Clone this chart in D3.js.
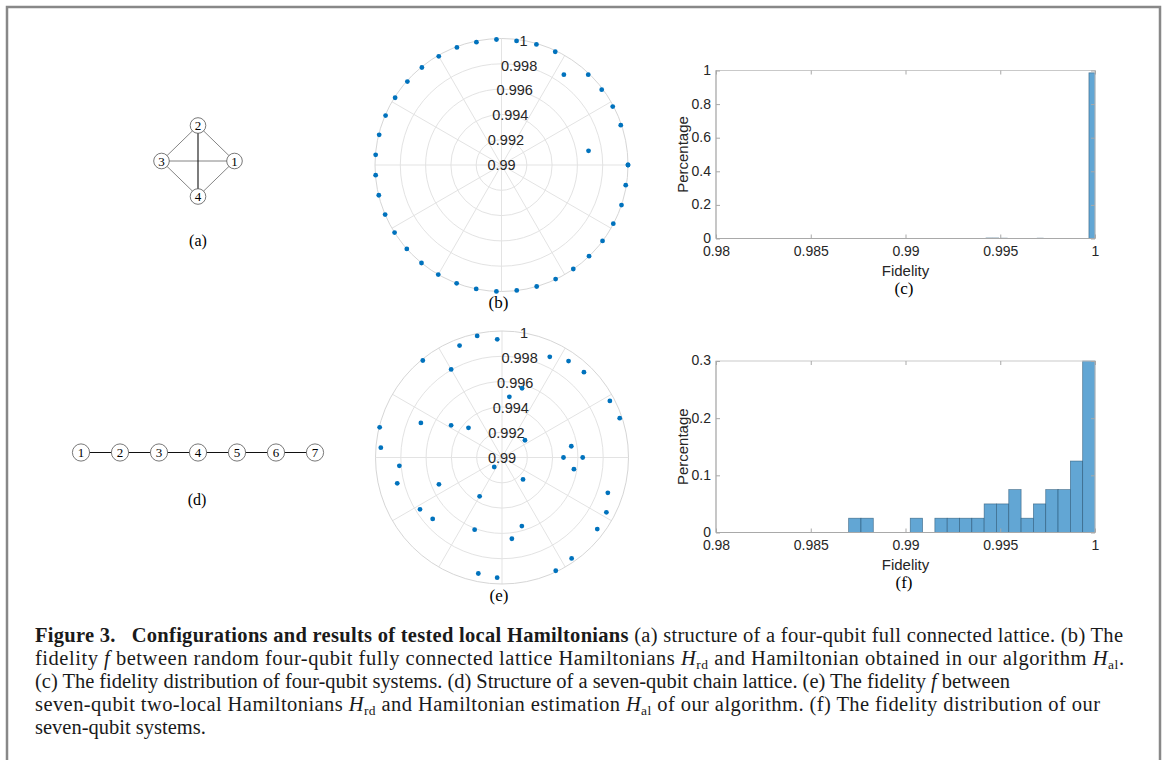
<!DOCTYPE html>
<html>
<head>
<meta charset="utf-8">
<script src="https://cdn.jsdelivr.net/npm/d3@7"></script>
<style>
  body { margin: 0; background: #fff; }
  svg { display: block; }
</style>
</head>
<body>
<div id="fig"></div>
<script>
// fidelity of 40 test Hamiltonians (index -> angle on the polar plot)
const fidFourQubit = [1.0000, 0.99697, 0.99994, 0.99993, 0.99991, 0.99990, 0.99868, 0.99991, 0.99992, 0.99988,
  0.99993, 0.99991, 0.99994, 0.99992, 0.99995, 0.99994, 0.99995, 0.99996, 0.99996, 0.99998,
  0.99998, 0.99999, 1.0000, 1.0000, 1.0000, 1.0000, 1.0000, 1.0000, 1.0000, 1.0000,
  0.99999, 1.0000, 0.99998, 0.99999, 0.99999, 0.99999, 0.99998, 1.0000, 0.99995, 1.0000];
const fidSevenQubit = [0.99486, 0.99555, 0.99981, 0.99963, 0.99227, 0.99935, 0.99926, 0.99881, 0.99570, 0.99483,
  0.99935, 0.99981, 0.99946, 0.99804, 0.99990, 0.99354, 0.99476, 0.99697, 0.99996, 0.99961,
  0.99814, 0.99853, 0.99542, 0.99767, 0.99732, 0.99097, 0.99354, 0.99610, 0.99936, 0.99951,
  0.99647, 0.99564, 0.99991, 0.99969, 0.99240, 0.99942, 0.99932, 0.99882, 0.99576, 0.99638];
const polarRTicks = [0.99, 0.992, 0.994, 0.996, 0.998, 1];

// histogram (c): four-qubit systems
const histC_lo  = [0.99425, 0.99460, 0.99505, 0.99695, 0.99968];
const histC_hi  = [0.99457, 0.99492, 0.99537, 0.99727, 1.00000];
const histC_pct = [0.003, 0.003, 0.002, 0.002, 0.986];
const histC_yTicks = [0, 0.2, 0.4, 0.6, 0.8, 1];

// histogram (f): seven-qubit systems
const histF_edges = [0.98700, 0.98765, 0.98830, 0.98895, 0.98960, 0.99025, 0.99090, 0.99155, 0.99220, 0.99285,
  0.99350, 0.99415, 0.99480, 0.99545, 0.99610, 0.99675, 0.99740, 0.99805, 0.99870, 0.99935, 1.00000];
const histF_pct = [0.025, 0.025, 0, 0, 0, 0.025, 0, 0.025, 0.025, 0.025,
  0.025, 0.05, 0.05, 0.075, 0.025, 0.05, 0.075, 0.075, 0.125, 0.3];
const histF_yTicks = [0, 0.1, 0.2, 0.3];

const fidTicks = [0.98, 0.985, 0.99, 0.995, 1];

// lattices
const fourNodes = [1, 2, 3, 4];
const fourEdges = [[2, 1], [2, 3], [3, 4], [4, 1], [3, 1], [2, 4]];
const chainNodes = [1, 2, 3, 4, 5, 6, 7];

const W = 1165, H = 760;
const sans = "'Liberation Sans', Arial, Helvetica, sans-serif";
const serif = "'Liberation Serif', 'Times New Roman', serif";
const barFill = "#62a6d4";
const dotBlue = "#0072bd";
const fmt = d => String(+d.toFixed(3));

const svg = d3.select("#fig").append("svg")
  .attr("width", W).attr("height", H)
  .style("font-family", sans);

// outer frame (bottom edge is off the page)
svg.append("path")
  .attr("d", "M7,800V7H1160V800")
  .attr("fill", "none")
  .attr("stroke", "#888")
  .attr("stroke-width", 2.5);

// ---------- lattice diagrams ----------
function nodeGroup(sel, pos, rad) {
  const n = sel.append("g").attr("transform", d => `translate(${pos(d)})`);
  n.append("circle").attr("r", rad).attr("fill", "#fff").attr("stroke", "#555").attr("stroke-width", 0.8);
  n.append("text").attr("text-anchor", "middle").attr("dy", "0.36em")
    .style("font-family", serif).style("font-size", "13px").text(d => d);
}

// (a) four-qubit full connected lattice
const diamond = d3.scaleLinear().domain([1, 5]).range([0, 2 * Math.PI]);
const posA = d => [198 + 36.5 * Math.cos(diamond(d)), 161 - 35.5 * Math.sin(diamond(d))];
const gA = svg.append("g");
gA.selectAll("line").data(fourEdges).join("line")
  .attr("x1", d => posA(d[0])[0]).attr("y1", d => posA(d[0])[1])
  .attr("x2", d => posA(d[1])[0]).attr("y2", d => posA(d[1])[1])
  .attr("stroke", d => (d[0] === 2 && d[1] === 4) ? "#111" : "#777")
  .attr("stroke-width", d => (d[0] === 2 && d[1] === 4) ? 1.1 : 0.9);
nodeGroup(gA.selectAll("g.n").data(fourNodes).join("g").attr("class", "n"), posA, 7.8);
svg.append("text").attr("x", 198).attr("y", 246).attr("text-anchor", "middle")
  .style("font-family", serif).style("font-size", "16px").text("(a)");

// (d) seven-qubit chain
const chainX = d3.scalePoint().domain(chainNodes).range([81, 315]);
const posD = d => [chainX(d), 452.5];
const gD = svg.append("g");
gD.selectAll("line").data(d3.pairs(chainNodes)).join("line")
  .attr("x1", d => chainX(d[0])).attr("x2", d => chainX(d[1]))
  .attr("y1", 452.5).attr("y2", 452.5)
  .attr("stroke", "#111").attr("stroke-width", 1);
nodeGroup(gD.selectAll("g.n").data(chainNodes).join("g").attr("class", "n"), posD, 8.6);
svg.append("text").attr("x", 197).attr("y", 505).attr("text-anchor", "middle")
  .style("font-family", serif).style("font-size", "16px").text("(d)");

// ---------- polar plots ----------
function polarPlot(cx, cy, vals, tag, tagY) {
  const R = 126.5;
  const r = d3.scaleLinear().domain([0.99, 1]).range([0, R]);
  const th = d3.scaleLinear().domain([0, vals.length - 1]).range([0, 2 * Math.PI]);
  const g = svg.append("g").attr("transform", `translate(${cx},${cy})`);

  g.selectAll("line.spoke").data(d3.range(0, 360, 30)).join("line")
    .attr("x2", d => R * Math.cos(d * Math.PI / 180))
    .attr("y2", d => -R * Math.sin(d * Math.PI / 180))
    .attr("stroke", "#e3e3e3").attr("stroke-width", 1);
  g.selectAll("circle.ring").data(polarRTicks.slice(1)).join("circle")
    .attr("r", d => r(d)).attr("fill", "none")
    .attr("stroke", (d, i, a) => i === a.length - 1 ? "#d6d6d6" : "#e3e3e3")
    .attr("stroke-width", 1);

  const la = 80 * Math.PI / 180;
  g.selectAll("text.rt").data(polarRTicks).join("text")
    .attr("x", d => r(d) * Math.cos(la))
    .attr("y", d => -r(d) * Math.sin(la))
    .attr("dy", "0.36em")
    .attr("text-anchor", "middle")
    .attr("fill", "#262626")
    .style("font-size", "14.5px")
    .text(fmt);

  g.selectAll("circle.pt").data(vals).join("circle")
    .attr("cx", (d, i) => r(d) * Math.cos(th(i)))
    .attr("cy", (d, i) => -r(d) * Math.sin(th(i)))
    .attr("r", 2.4).attr("fill", dotBlue);

  svg.append("text").attr("x", cx - 3).attr("y", tagY).attr("text-anchor", "middle")
    .style("font-family", serif).style("font-size", "17px").text(tag);
}
polarPlot(501.5, 165, fidFourQubit, "(b)", 308);
polarPlot(502, 457.5, fidSevenQubit, "(e)", 601);

// ---------- histograms ----------
function histPlot(top, bottom, yMax, yTicks, bins, tag) {
  const left = 716, right = 1095;
  const x = d3.scaleLinear().domain([0.98, 1]).range([left, right]);
  const y = d3.scaleLinear().domain([0, yMax]).range([bottom, top]);
  const g = svg.append("g");

  g.selectAll("rect.bar").data(bins.filter(b => b.v > 0)).join("rect")
    .attr("x", b => x(b.lo)).attr("width", b => x(b.hi) - x(b.lo))
    .attr("y", b => y(b.v)).attr("height", b => y(0) - y(b.v))
    .attr("fill", barFill)
    .attr("stroke", "#24506f").attr("stroke-opacity", 0.7).attr("stroke-width", 0.7);

  g.append("rect").attr("x", left).attr("y", top).attr("width", right - left).attr("height", bottom - top)
    .attr("fill", "none").attr("stroke", "#c9c9c9").attr("stroke-width", 1);
  g.append("path").attr("d", `M${left},${top}V${bottom}H${right}`)
    .attr("fill", "none").attr("stroke", "#a9a9a9").attr("stroke-width", 1);

  const ax = (axis, tx, ty) => {
    const a = g.append("g").attr("transform", `translate(${tx},${ty})`).call(axis);
    a.select(".domain").remove();
    a.selectAll(".tick line").attr("stroke", "#a9a9a9");
    a.selectAll(".tick text").attr("fill", "#262626").style("font-family", sans).style("font-size", "14px");
    return a;
  };
  ax(d3.axisBottom(x).tickValues(fidTicks).tickFormat(fmt).tickSizeInner(-4).tickSizeOuter(0).tickPadding(8), 0, bottom);
  ax(d3.axisTop(x).tickValues(fidTicks).tickFormat("").tickSizeInner(-4).tickSizeOuter(0), 0, top);
  ax(d3.axisLeft(y).tickValues(yTicks).tickFormat(fmt).tickSizeInner(-4).tickSizeOuter(0).tickPadding(5), left, 0)
    .selectAll(".tick text").attr("dy", "0.28em");
  ax(d3.axisRight(y).tickValues(yTicks).tickFormat("").tickSizeInner(-4).tickSizeOuter(0), right, 0);

  svg.append("text").attr("x", (left + right) / 2).attr("y", bottom + 37)
    .attr("text-anchor", "middle").attr("fill", "#262626").style("font-size", "15px").text("Fidelity");
  svg.append("text").attr("transform", `translate(688,${(top + bottom) / 2}) rotate(-90)`)
    .attr("text-anchor", "middle").attr("fill", "#262626").style("font-size", "15px").text("Percentage");
  svg.append("text").attr("x", 904).attr("y", bottom + 55)
    .attr("text-anchor", "middle").style("font-family", serif).style("font-size", "17px").text(tag);
}
histPlot(70.5, 238.5, 1, histC_yTicks,
  histC_pct.map((v, i) => ({ lo: histC_lo[i], hi: histC_hi[i], v })), "(c)");
histPlot(361, 532.5, 0.3, histF_yTicks,
  histF_pct.map((v, i) => ({ lo: histF_edges[i], hi: histF_edges[i + 1], v })), "(f)");

// ---------- caption ----------
const capLines = [
  { w: 1088, segs: [["b", "Figure 3.\u2002 Configurations and results of tested local Hamiltonians"],
    ["n", " (a) structure of a four-qubit full connected lattice. (b) The"]] },
  { w: 1089, segs: [["n", "fidelity "], ["i", "f"], ["n", " between random four-qubit fully connected lattice Hamiltonians "],
    ["i", "H"], ["s", "rd"], ["n", " and Hamiltonian obtained in our algorithm "], ["i", "H"], ["s", "al"], ["n", "."]] },
  { w: 975, segs: [["n", "(c) The fidelity distribution of four-qubit systems. (d) Structure of a seven-qubit chain lattice. (e) The fidelity "],
    ["i", "f"], ["n", " between"]] },
  { w: 1065, segs: [["n", "seven-qubit two-local Hamiltonians "], ["i", "H"], ["s", "rd"], ["n", " and Hamiltonian estimation "],
    ["i", "H"], ["s", "al"], ["n", " of our algorithm. (f) The fidelity distribution of our"]] },
  { w: null, segs: [["n", "seven-qubit systems."]] }
];
capLines.forEach((line, li) => {
  const t = svg.append("text").attr("x", 35).attr("y", 642 + li * 23)
    .style("font-family", serif).style("font-size", "20.5px").attr("fill", "#1a1a1a");
  if (line.w) t.attr("textLength", line.w).attr("lengthAdjust", "spacing");
  let shifted = false;
  line.segs.forEach(([k, s]) => {
    const ts = t.append("tspan").text(s);
    if (k === "b") ts.style("font-weight", "bold");
    if (k === "i") ts.style("font-style", "italic");
    if (k === "s") { ts.attr("dy", 4).style("font-size", "13.5px"); shifted = true; }
    else if (shifted) { ts.attr("dy", -4); shifted = false; }
  });
});
</script>
</body>
</html>
